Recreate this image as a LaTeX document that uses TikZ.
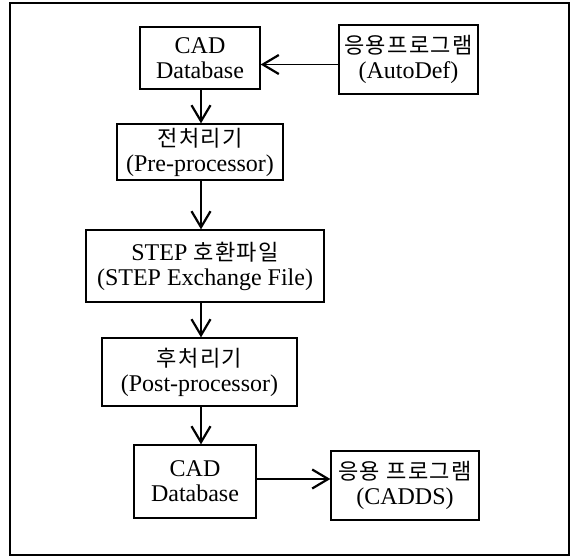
\documentclass[tikz,border=0pt]{standalone}
\usepackage{fontspec}
\setmainfont{Liberation Serif}
\newfontfamily\kr{Noto Sans CJK KR}[Scale=0.92, LetterSpace=6]
\usetikzlibrary{arrows.meta}

\begin{document}
\begin{tikzpicture}[x=1pt, y=-1pt,
		blk/.style={draw, line width=1.3pt, inner sep=0pt, align=center, font=\fontsize{24}{25}\selectfont},
		flow/.style={line width=1.2pt, -{Straight Barb[length=16pt,width=19pt,line width=2.2pt]}}]
		\useasboundingbox (0,0) rectangle (573,557);
		\draw[line width=1.1pt] (10,3) rectangle (569,555);
		
		% blocks
		\node[blk, minimum width=120pt, minimum height=62pt] (cadA) at (200,58) {CAD\\Database};
		\node[blk, minimum width=139pt, minimum height=69pt] (appA) at (408.5,59.5) {{\kr 응용프로그램}\\(AutoDef)};
		\node[blk, minimum width=166pt, minimum height=56pt] (pre) at (200,152) {{\kr 전처리기}\\(Pre-processor)};
		\node[blk, minimum width=238pt, minimum height=72pt] (stp) at (205,266) {STEP {\kr 호환파일}\\(STEP Exchange File)};
		\node[blk, minimum width=195pt, minimum height=68pt] (post) at (199.5,372) {{\kr 후처리기}\\(Post-processor)};
		\node[blk, minimum width=122pt, minimum height=73pt] (cadB) at (195,481.5) {CAD\\Database};
		\node[blk, minimum width=148pt, minimum height=69pt] (appB) at (405,485.5) {{\kr 응용 프로그램}\\(CADDS)};
		
		% arrows
		\coordinate (spine) at (201,0);
		\foreach \a/\b in {cadA/pre, pre/stp, stp/post, post/cadB}
		{
			\draw[flow] (\a.south -| spine) -- (\b.north -| spine);
		}
		\draw[flow] ([yshift=-5pt]appA.west) -- ([yshift=-5pt]appA.west -| cadA.east);
		\draw[flow] (cadB.east |- 0,479) -- (appB.west |- 0,479);
	\end{tikzpicture}
\end{document}
